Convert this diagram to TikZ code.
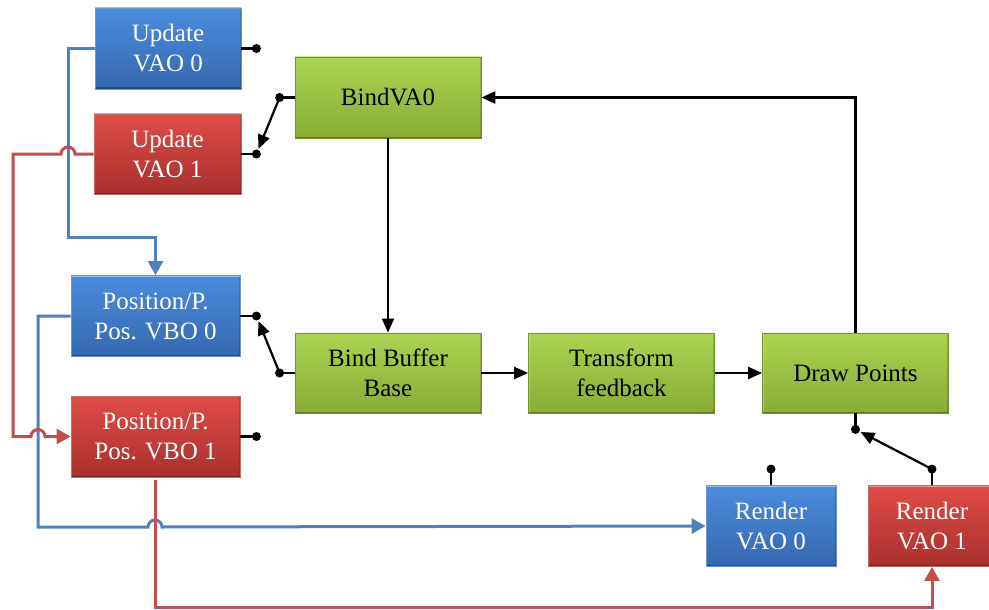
\documentclass[tikz,border=0pt]{standalone}
\usepackage{fontspec}
\setmainfont{Liberation Serif}
\usetikzlibrary{arrows.meta,calc}

\definecolor{bluetop}{RGB}{74,140,220}
\definecolor{bluebot}{RGB}{52,104,176}
\definecolor{redtop}{RGB}{224,76,70}
\definecolor{redbot}{RGB}{168,48,44}
\definecolor{greentop}{RGB}{172,212,82}
\definecolor{greenbot}{RGB}{136,172,54}
\definecolor{bluewire}{RGB}{79,129,189}
\definecolor{redwire}{RGB}{192,80,77}

\tikzset{
  box/.style={rectangle, align=center, inner sep=0pt,
    font=\fontsize{25}{30}\selectfont, line width=0.8pt,
    path picture={
      \draw[white, opacity=0.45, line width=2.5pt]
        (path picture bounding box.north west) -- (path picture bounding box.north east);
      \draw[white, opacity=0.25, line width=2.5pt]
        (path picture bounding box.north west) -- (path picture bounding box.south west);
      \draw[black, opacity=0.3, line width=3pt]
        (path picture bounding box.south west) -- (path picture bounding box.south east);
      \draw[black, opacity=0.15, line width=2.5pt]
        (path picture bounding box.north east) -- (path picture bounding box.south east);
    }},
  bluebox/.style={box, top color=bluetop, bottom color=bluebot,
    draw=bluebot!70!white, text=white},
  redbox/.style={box, top color=redtop, bottom color=redbot,
    draw=redbot!70!white, text=white},
  greenbox/.style={box, top color=greentop, bottom color=greenbot,
    draw=greenbot!85!black, text=black},
  flow/.style={line width=2.2pt, -{Triangle[length=14pt,width=12pt]}},
  stub/.style={line width=2.2pt},
  pin/.style={circle, fill=black, inner sep=0pt, minimum size=9pt},
  bwire/.style={draw=bluewire, line width=3pt},
  rwire/.style={draw=redwire, line width=3pt},
  barrow/.style={bwire, -{Triangle[length=14pt,width=15pt]}},
  rarrow/.style={rwire, -{Triangle[length=14pt,width=15pt]}},
}

\begin{document}
\begin{tikzpicture}[x=1pt,y=-1pt]
\useasboundingbox (0,0) rectangle (989,610);

% boxes
\node[bluebox, minimum width=146pt, minimum height=81pt] (uv0) at (168,48.5) {Update\\VAO 0};
\node[redbox, minimum width=147pt, minimum height=80pt] (uv1) at (167.5,154) {Update\\VAO 1};
\node[bluebox, minimum width=169pt, minimum height=81pt] (pv0) at (155.5,316) {Position/P.\\Pos. VBO 0};
\node[redbox, minimum width=169pt, minimum height=81pt] (pv1) at (155.5,436.5) {Position/P.\\Pos. VBO 1};
\node[greenbox, minimum width=186pt, minimum height=81pt] (bva) at (388,97.5) {BindVA0};
\node[greenbox, minimum width=186pt, minimum height=80pt] (bbb) at (388,373) {Bind Buffer\\Base};
\node[greenbox, minimum width=186pt, minimum height=80pt] (tf) at (621.5,373) {Transform\\feedback};
\node[greenbox, minimum width=186pt, minimum height=80pt] (dp) at (855.5,373) {Draw Points};
\node[bluebox, minimum width=130pt, minimum height=81pt] (rv0) at (771,526) {Render\\VAO 0};
\node[redbox, minimum width=128pt, minimum height=81pt] (rv1) at (932,526) {Render\\VAO 1};

% switch pins
\draw[stub] (uv0.east) -- ++(15,0) node[pin] (p1) {};
\draw[stub] (uv1.east) -- ++(15,0) node[pin] (p2) {};
\draw[stub] (bva.west) -- ++(-15,0) node[pin] (p3) {};
\draw[stub] (pv0.east) -- ++(16,0) node[pin] (p4) {};
\draw[stub] (pv1.east) -- ++(16,0) node[pin] (p5) {};
\draw[stub] (bbb.west) -- ++(-15,0) node[pin] (p6) {};
\draw[stub] (dp.south) -- ++(0,16) node[pin] (p7) {};
\draw[stub] (rv0.north) -- ++(0,-16) node[pin] (p8) {};
\draw[stub] (rv1.north) -- ++(0,-16) node[pin] (p9) {};

% switch arms
\draw[flow] (p3.center) -- (p2);
\draw[flow] (p6.center) -- (p4);
\draw[flow] (p9.center) -- (p7);

% main flow
\draw[flow] (bva) -- (bbb);
\draw[flow] (bbb) -- (tf);
\draw[flow] (tf) -- (dp);
\draw[flow] (dp.north) |- (bva.east);

% blue wiring
\draw[barrow] (uv0.west) -| (68,237) -| (pv0.north);
\draw[barrow] (pv0.west) -| (38,527) -- (148,527) arc[start angle=180,end angle=0,radius=7pt] -- (rv0.west);

% red wiring
\draw[rarrow] (uv1.west) -- (75,154) arc[start angle=0,end angle=180,radius=7pt] -- (13,154) |- (31,436.5) arc[start angle=180,end angle=0,radius=7pt] -- (pv1.west);
\draw[rarrow, shorten <=3pt] (pv1.south) -- (155.5,607) -| (rv1.south);
\end{tikzpicture}
\end{document}
